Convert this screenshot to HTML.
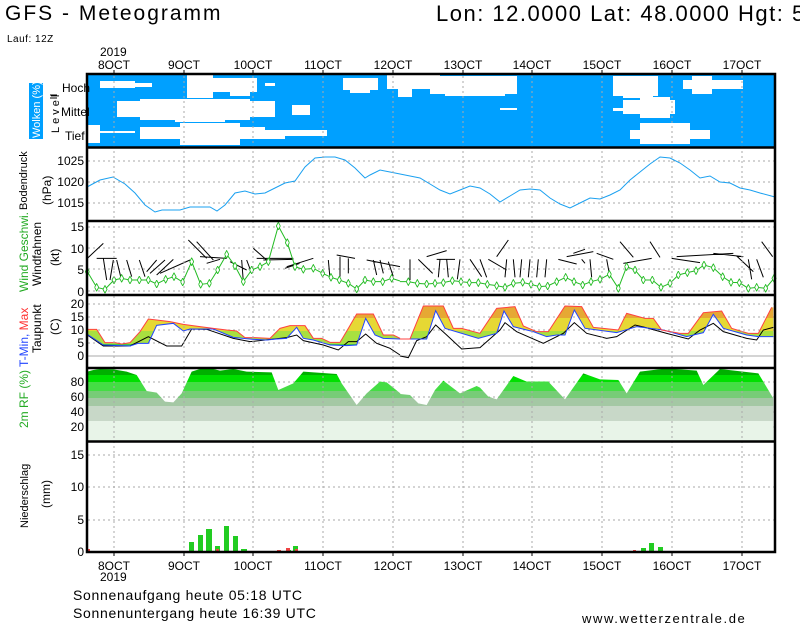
<!DOCTYPE html>
<html><head><meta charset="utf-8"><style>
html,body{margin:0;padding:0;background:#fff;}
svg{display:block;font-family:"Liberation Sans",sans-serif;}
</style></head><body>
<svg width="800" height="625" viewBox="0 0 800 625" xmlns="http://www.w3.org/2000/svg">
<defs>
<marker id="dm" markerUnits="userSpaceOnUse" markerWidth="14" markerHeight="25" refX="8" refY="14" viewBox="0 0 16 28"><path d="M8 1 L15 14 L8 27 L1 14 Z" fill="#fff" stroke="#22bb22" stroke-width="3"/></marker>
<clipPath id="tclip">
<polygon transform="translate(0,220) scale(0.33333)" points="262,328 290,328 315,368 345,368 365,372 390,368 420,335 445,297 470,300 510,305 550,313 600,320 640,325 680,330 710,333 735,353 765,353 810,355 840,325 870,317 915,317 940,355 965,355 990,367 1020,367 1045,325 1070,282 1120,282 1150,345 1180,345 1201,355 1201,357 1150,355 1125,345 1097,295 1070,375 1040,377 990,375 940,360 910,355 890,322 860,355 830,357 800,360 760,358 700,352 640,327 570,327 550,333 520,310 470,316 445,370 415,370 390,378 310,375 262,343"/>
<polygon transform="translate(400,220) scale(0.33333)" points="-1,357 30,357 70,258 130,258 160,325 185,325 240,340 290,265 345,260 370,318 410,335 445,335 495,258 545,260 580,322 610,325 655,330 680,280 735,295 760,295 785,330 840,340 865,340 910,278 965,273 995,325 1045,340 1075,340 1115,262 1120,262 1120,350 1075,350 1040,345 970,325 940,283 910,338 860,350 790,330 710,320 650,338 555,325 523,270 495,345 470,345 440,350 400,335 340,320 312,273 290,340 235,355 135,325 107,272 80,357 -1,357"/>
</clipPath>
<clipPath id="rhclip">
<polygon transform="translate(0,220) scale(0.33333)" points="262,455 280,450 300,447 340,448 380,455 410,465 440,513 470,518 495,545 520,547 545,520 575,455 600,447 640,447 660,452 700,447 740,455 815,457 835,510 880,490 910,455 1010,462 1025,490 1070,555 1100,520 1140,485 1160,487 1201,520 1201,665 262,665"/>
<polygon transform="translate(400,220) scale(0.33333)" points="-1,522 30,525 55,550 80,555 105,510 130,482 180,520 230,498 240,503 265,530 290,538 340,468 380,485 445,485 495,538 550,460 600,478 655,480 680,520 720,455 800,445 890,452 910,495 960,447 1075,460 1120,535 1120,665 -1,665"/>
</clipPath>
</defs>

<!-- Titles -->
<text x="5" y="20" font-size="21" letter-spacing="2">GFS - Meteogramm</text>
<text x="436" y="21" font-size="22" letter-spacing="1.5">Lon: 12.0000 Lat: 48.0000 Hgt: 5</text>
<text x="7" y="42" font-size="10" letter-spacing="0.5">Lauf: 12Z</text>
<text x="100" y="56" font-size="12">2019</text>
<g font-size="12" text-anchor="middle">
<text x="114" y="69">8OCT</text><text x="184" y="69">9OCT</text><text x="253" y="69">10OCT</text><text x="323" y="69">11OCT</text><text x="393" y="69">12OCT</text><text x="463" y="69">13OCT</text><text x="532" y="69">14OCT</text><text x="602" y="69">15OCT</text><text x="672" y="69">16OCT</text><text x="742" y="69">17OCT</text>
<text x="114" y="570">8OCT</text><text x="184" y="570">9OCT</text><text x="253" y="570">10OCT</text><text x="323" y="570">11OCT</text><text x="393" y="570">12OCT</text><text x="463" y="570">13OCT</text><text x="532" y="570">14OCT</text><text x="602" y="570">15OCT</text><text x="672" y="570">16OCT</text><text x="742" y="570">17OCT</text>
</g>
<text x="100" y="581" font-size="12">2019</text>

<!-- Cloud panel -->
<rect x="87" y="74" width="688" height="73" fill="#00a0ff"/>
<g fill="#fff">
<rect x="100" y="81" width="35" height="7"/><rect x="130" y="83" width="22" height="4"/>
<rect x="187" y="75" width="26" height="23"/><rect x="200" y="78" width="57" height="14"/><rect x="230" y="82" width="20" height="14"/>
<rect x="265" y="83" width="10" height="3"/>
<rect x="343" y="78" width="35" height="12"/><rect x="350" y="86" width="20" height="7"/>
<rect x="387" y="75" width="53" height="14"/><rect x="398" y="86" width="14" height="11"/>
<rect x="430" y="76" width="87" height="18"/><rect x="445" y="92" width="60" height="4"/>
<rect x="500" y="108" width="17" height="2"/>
<rect x="613" y="76" width="45" height="20"/><rect x="623" y="94" width="30" height="4"/>
<rect x="683" y="80" width="60" height="9"/><rect x="692" y="76" width="20" height="18"/>
<rect x="117" y="101" width="158" height="16"/><rect x="140" y="99" width="110" height="21"/><rect x="175" y="117" width="50" height="5"/>
<rect x="292" y="105" width="18" height="10"/>
<rect x="623" y="100" width="52" height="14"/><rect x="640" y="97" width="30" height="21"/><rect x="613" y="108" width="15" height="3"/>
<rect x="87" y="125" width="13" height="18"/><rect x="100" y="131" width="35" height="2"/>
<rect x="140" y="127" width="125" height="12"/><rect x="180" y="123" width="60" height="22"/><rect x="265" y="130" width="62" height="6"/><rect x="255" y="135" width="30" height="4"/>
<rect x="630" y="130" width="80" height="9"/><rect x="640" y="123" width="50" height="21"/><rect x="680" y="126" width="10" height="10"/>
</g>
<rect x="29" y="83" width="14" height="56" fill="#00a0ff"/>
<text transform="translate(40,138) rotate(-90)" font-size="11" fill="#fff">Wolken (%)</text>
<text transform="translate(59,133) rotate(-90)" font-size="11" letter-spacing="3">Level</text>
<g font-size="12"><text x="62" y="92">Hoch</text><text x="61" y="116">Mittel</text><text x="65" y="140">Tief</text></g>
<g stroke="#000"><line x1="50" y1="95" x2="57" y2="95"/><line x1="50" y1="98" x2="57" y2="98"/></g>

<!-- Pressure -->
<g stroke="#aaa" stroke-dasharray="2,3"><line x1="88" y1="161" x2="775" y2="161"/><line x1="88" y1="182" x2="775" y2="182"/><line x1="88" y1="203" x2="775" y2="203"/>
<line x1="88" y1="269" x2="775" y2="269"/><line x1="88" y1="248" x2="775" y2="248"/><line x1="88" y1="227" x2="775" y2="227"/><line x1="88" y1="291" x2="775" y2="291"/>
<line x1="88" y1="304" x2="775" y2="304"/><line x1="88" y1="317" x2="775" y2="317"/><line x1="88" y1="330" x2="775" y2="330"/><line x1="88" y1="343" x2="775" y2="343"/>
<line x1="88" y1="382" x2="775" y2="382"/><line x1="88" y1="397" x2="775" y2="397"/><line x1="88" y1="412" x2="775" y2="412"/><line x1="88" y1="427" x2="775" y2="427"/>
<line x1="88" y1="455" x2="775" y2="455"/><line x1="88" y1="487" x2="775" y2="487"/><line x1="88" y1="520" x2="775" y2="520"/>
</g>
<line x1="88" y1="356" x2="775" y2="356" stroke="#aaa"/>
<g font-size="12" text-anchor="end">
<text x="84" y="165">1025</text><text x="84" y="186">1020</text><text x="84" y="207">1015</text>
<text x="84" y="231">15</text><text x="84" y="253">10</text><text x="84" y="274">5</text><text x="84" y="296">0</text>
<text x="84" y="308">20</text><text x="84" y="321">15</text><text x="84" y="334">10</text><text x="84" y="347">5</text><text x="84" y="360">0</text>
<text x="84" y="386">80</text><text x="84" y="401">60</text><text x="84" y="416">40</text><text x="84" y="431">20</text>
<text x="84" y="459">15</text><text x="84" y="491">10</text><text x="84" y="524">5</text><text x="84" y="556">0</text>
</g>
<polyline fill="none" stroke="#1aa0f0" stroke-width="1" points="87,187 100,180 113,177 125,184 135,193 145,205 155,212 162,210 170,210 180,210 190,207 210,207 217,211 225,205 235,193 245,191 255,194 265,193 275,188 285,183 295,181 305,167 315,158 325,157 335,157 345,160 355,168 365,178 370,175 380,170 390,172 400,174 410,176 420,178 430,184 440,190 450,194 460,190 470,186 480,188 490,194 500,202 510,196 520,190 530,189 540,190 550,198 560,204 570,208 580,203 590,198 600,199 610,195 620,190 630,180 640,172 650,164 660,157 670,158 680,163 690,170 700,178 710,176 720,182 730,183 740,188 750,190 760,193 775,197"/>
<text transform="translate(27,210) rotate(-90)" font-size="11">Bodendruck</text>
<text transform="translate(51,205) rotate(-90)" font-size="12">(hPa)</text>

<!-- Wind -->
<g transform="translate(0,220) scale(0.33333)" stroke="#000" fill="none">
<path vector-effect="non-scaling-stroke" d="M262,115L310,70M290,115L350,115M310,115L320,180M340,120L330,180M350,120L362,170M380,120L395,170M418,120L435,170M440,155L470,120M450,160L495,120M470,165L520,118M480,160L570,120M565,60L620,115M590,65L640,120M600,110L680,115M620,130L660,118M690,125L740,150M725,120L730,185M740,120L755,160M760,85L800,120M770,115L880,115M790,120L880,118M855,145L900,130M860,140L940,115M985,120L990,175M1010,105L1065,115M1020,110L1020,170M1045,115L1045,160M1100,120L1200,140M1120,120L1130,165M1140,120L1150,160M1165,125L1180,170"/>
</g>
<g transform="translate(400,220) scale(0.33333)" stroke="#000" fill="none">
<path vector-effect="non-scaling-stroke" d="M30,118L30,180M55,118L98,160M80,110L140,92M110,118L165,118M120,118L115,172M140,118L145,172M180,118L172,178M210,118L245,170M240,118L260,172M265,118L320,150M290,110L325,60M320,118L315,172M340,118L345,172M365,118L360,172M390,118L385,172M415,118L410,172M440,118L435,172M475,118L530,132M500,110L580,95M520,100L555,88M545,118L555,130M570,118L575,172M590,100L640,118M620,118L630,172M660,65L700,112M670,130L755,115M750,65L780,112M815,115L900,128M830,110L1000,100M940,100L1030,110M1010,108L1060,155M1045,118L1055,178M1070,118L1090,172M1085,65L1118,110"/>
</g>
<polyline transform="translate(0,220) scale(0.33333)" fill="none" stroke="#22bb22" vector-effect="non-scaling-stroke" marker-start="url(#dm)" marker-mid="url(#dm)" points="262,155 290,202 315,208 342,180 365,175 390,180 418,180 445,180 470,192 497,178 522,170 548,186 575,125 602,193 628,190 653,150 680,103 705,138 730,185 755,150 780,140 805,125 835,18 862,68 885,140 910,148 940,145 968,160 993,172 1018,180 1045,190 1070,207 1095,180 1120,185 1148,185 1175,175 1200,183"/>
<polyline transform="translate(400,220) scale(0.33333)" fill="none" stroke="#22bb22" vector-effect="non-scaling-stroke" marker-mid="url(#dm)" marker-end="url(#dm)" points="0,185 25,185 52,190 80,192 105,190 130,188 157,182 183,185 208,188 235,188 262,193 290,197 315,202 340,190 368,187 393,193 418,200 443,198 470,185 497,172 522,185 548,195 573,185 600,178 628,163 655,205 680,140 705,150 730,180 757,180 783,202 810,190 835,165 862,158 888,152 912,135 940,143 968,170 993,187 1018,188 1045,205 1070,202 1097,205 1122,175"/>
<text transform="translate(28,292) rotate(-90)" font-size="12" fill="#22aa22">Wind Geschwi.</text>
<text transform="translate(41,286) rotate(-90)" font-size="12">Windfahnen</text>
<text transform="translate(59,266) rotate(-90)" font-size="12">(kt)</text>

<!-- Temperature -->
<g clip-path="url(#tclip)" shape-rendering="crispEdges">
<rect x="87" y="290" width="688" height="28" fill="#e6a834"/>
<rect x="87" y="318" width="688" height="13" fill="#e6d834"/>
<rect x="87" y="331" width="688" height="13" fill="#a8e040"/>
<rect x="87" y="344" width="688" height="20" fill="#44cc44"/>
</g>
<polyline transform="translate(0,220) scale(0.33333)" fill="none" stroke="#000" vector-effect="non-scaling-stroke" points="262,345 310,378 390,378 445,350 500,378 545,378 575,327 620,328 700,355 750,365 860,353 890,345 910,362 970,375 1015,390 1045,365 1070,365 1097,342 1130,370 1170,385 1200,405"/>
<polyline transform="translate(400,220) scale(0.33333)" fill="none" stroke="#000" vector-effect="non-scaling-stroke" points="0,408 25,413 50,362 80,350 107,315 140,345 185,387 240,383 300,330 315,308 350,335 430,370 490,340 523,308 560,340 620,355 650,350 705,315 735,322 800,340 865,357 900,330 940,310 970,335 1040,355 1070,360 1090,330 1120,322"/>
<polyline transform="translate(0,220) scale(0.33333)" fill="none" stroke="#2244ff" vector-effect="non-scaling-stroke" points="262,343 310,375 390,378 415,370 445,370 470,316 520,310 550,333 570,327 640,327 700,352 760,358 800,360 830,357 860,355 890,322 910,355 940,360 990,375 1040,377 1070,375 1097,295 1125,345 1150,355 1200,357"/>
<polyline transform="translate(400,220) scale(0.33333)" fill="none" stroke="#2244ff" vector-effect="non-scaling-stroke" points="0,357 40,357 80,357 107,272 135,325 235,355 290,340 312,273 340,320 400,335 440,350 470,345 495,345 523,270 555,325 650,338 710,320 790,330 860,350 910,338 940,283 970,325 1040,345 1075,350 1120,350"/>
<polyline transform="translate(0,220) scale(0.33333)" fill="none" stroke="#ff4040" vector-effect="non-scaling-stroke" points="262,328 290,328 315,368 345,368 365,372 390,368 420,335 445,297 470,300 510,305 550,313 600,320 640,325 680,330 710,333 735,353 765,353 810,355 840,325 870,317 915,317 940,355 965,355 990,367 1020,367 1045,325 1070,282 1120,282 1150,345 1180,345 1200,355"/>
<polyline transform="translate(400,220) scale(0.33333)" fill="none" stroke="#ff4040" vector-effect="non-scaling-stroke" points="0,357 30,357 70,258 130,258 160,325 185,325 240,340 290,265 345,260 370,318 410,335 445,335 495,258 545,260 580,322 610,325 655,330 680,280 735,295 760,295 785,330 840,340 865,340 910,278 965,273 995,325 1045,340 1075,340 1115,262"/>
<text transform="translate(28,367) rotate(-90)" font-size="12"><tspan fill="#2244ff">T-Min, </tspan><tspan fill="#ff3030">Max</tspan></text>
<text transform="translate(41,353) rotate(-90)" font-size="12">Taupunkt</text>
<text transform="translate(59,335) rotate(-90)" font-size="12">(C)</text>

<!-- RH -->
<g clip-path="url(#rhclip)" shape-rendering="crispEdges">
<rect x="87" y="366" width="688" height="9" fill="#00b000"/>
<rect x="87" y="375" width="688" height="7" fill="#00e000"/>
<rect x="87" y="382" width="688" height="9" fill="#44dd44"/>
<rect x="87" y="391" width="688" height="7" fill="#77cc77"/>
<rect x="87" y="398" width="688" height="8" fill="#a4c8a4"/>
<rect x="87" y="406" width="688" height="15" fill="#c8d8c8"/>
<rect x="87" y="421" width="688" height="21" fill="#e8f4e8"/>
</g>
<text transform="translate(28,428) rotate(-90)" font-size="12" fill="#22aa22">2m RF (%)</text>

<!-- Precip -->
<g fill="#22cc22">
<rect x="180" y="551" width="5" height="1"/><rect x="189" y="542" width="5" height="10"/><rect x="198" y="535" width="5" height="17"/><rect x="206" y="529" width="6" height="23"/><rect x="215" y="546" width="5" height="6"/><rect x="224" y="526" width="5" height="26"/><rect x="233" y="536" width="5" height="16"/><rect x="241" y="549" width="6" height="3"/>
<rect x="286" y="550" width="5" height="2"/><rect x="293" y="546" width="5" height="6"/>
<rect x="641" y="548" width="5" height="4"/><rect x="649" y="543" width="5" height="9"/><rect x="658" y="547" width="5" height="5"/>
</g>
<g fill="#ee4444">
<rect x="86" y="549" width="4" height="3"/><rect x="216" y="549" width="3" height="3"/><rect x="277" y="550" width="4" height="2"/><rect x="286" y="548" width="4" height="4"/><rect x="295" y="549" width="3" height="3"/><rect x="633" y="550" width="3" height="2"/>
</g>
<text transform="translate(28,528) rotate(-90)" font-size="11">Niederschlag</text>
<text transform="translate(50,508) rotate(-90)" font-size="12">(mm)</text>

<!-- Vertical grid -->
<g stroke="#aaa" stroke-dasharray="2,3">
<path d="M114,76V552M184,76V552M253,76V552M323,76V552M393,76V552M463,76V552M532,76V552M602,76V552M672,76V552M742,76V552"/>
</g>
<g stroke="#000"><path d="M114,70V74M184,70V74M253,70V74M323,70V74M393,70V74M463,70V74M532,70V74M602,70V74M672,70V74M742,70V74"/>
<path d="M114,552V556M184,552V556M253,552V556M323,552V556M393,552V556M463,552V556M532,552V556M602,552V556M672,552V556M742,552V556"/></g>

<!-- Frames -->
<g fill="none" stroke="#000" stroke-width="2.5">
<rect x="87" y="74" width="688" height="478"/>
<line x1="87" y1="147.5" x2="775" y2="147.5"/><line x1="87" y1="221" x2="775" y2="221"/><line x1="87" y1="295" x2="775" y2="295"/><line x1="87" y1="368" x2="775" y2="368"/><line x1="87" y1="441.5" x2="775" y2="441.5"/>
</g>

<g font-size="14" letter-spacing="0.7"><text x="73" y="600">Sonnenaufgang heute 05:18 UTC</text><text x="73" y="618">Sonnenuntergang heute 16:39 UTC</text></g>
<text x="582" y="623" font-size="13" letter-spacing="1.6">www.wetterzentrale.de</text>
</svg>
</body></html>
